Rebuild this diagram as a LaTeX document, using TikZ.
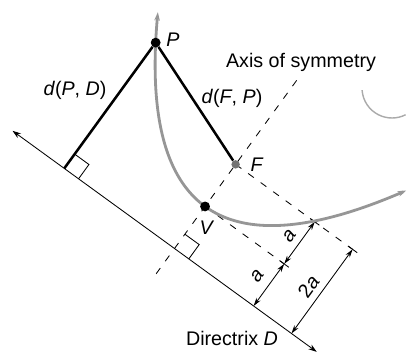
\documentclass[tikz,border=0pt]{standalone}
\usepackage{fontspec}
\setmainfont{Liberation Sans}
\usetikzlibrary{arrows.meta}
\definecolor{curvegray}{RGB}{150,150,150}
\definecolor{focusgray}{RGB}{115,115,115}
\definecolor{smudgegray}{RGB}{170,170,170}

\begin{document}
\begin{tikzpicture}[
  font=\fontsize{14}{16}\selectfont,
  dot/.style={circle,fill=black,inner sep=0pt,minimum size=7pt},
  thinline/.style={line width=0.6pt},
  dashline/.style={line width=0.6pt,dash pattern=on 5pt off 6pt},
  dimarrow/.style={line width=0.6pt,{Stealth[length=6pt,width=3.5pt]}-{Stealth[length=6pt,width=3.5pt]}},
  seg/.style={line width=1.8pt},
  lbl/.style={inner sep=0.5pt}]
  \useasboundingbox (0,0) rectangle (10.225,8.85);
  % smudge in the scan
  \draw[smudgegray,line width=1pt] (9.8,6.65) ++(184:0.75) arc[start angle=184,end angle=297,radius=0.75];
  \begin{scope}[shift={(4.3625,2.6375)},rotate=-36,scale=1.3]
    % frame: x along the directrix, y along the axis, unit a
    \coordinate (O) at (0,0);
    \coordinate (Dl) at (-3.85,0);
    \coordinate (Dr) at (3.38,0);
    \coordinate (Alo) at (0,-0.6);
    \coordinate (Ahi) at (0,4.15);
    \coordinate (Pf) at (-2.62,0);
    \coordinate (A1) at (1.88,0);
    \coordinate (A2) at (1.88,1);
    \coordinate (A3) at (1.88,2);
    \coordinate (B0) at (2.78,0);
    \coordinate (B2) at (2.78,2);
    \draw[thinline,{Stealth[length=6pt,width=4pt]}-{Stealth[length=6pt,width=4pt]}] (Dl) -- (Dr);
    \draw[dashline] (Alo) -- (Ahi);
    \draw[dashline] (0,1) -- (A2);
    \draw[dashline] (0,2) -- (B2);
    % right angles
    \draw[thinline] (O) ++(0.34,0) -- ++(0,0.34) -- ++(-0.34,0);
    \draw[thinline] (Pf) ++(0.34,0) -- ++(0,0.34) -- ++(-0.34,0);
    % dimensions
    \draw[dimarrow] (A1) -- (A2);
    \draw[dimarrow] (A2) -- (A3);
    \draw[dimarrow] (B0) -- (B2);
    \draw[thinline] (1.77,1) -- (1.99,1);
    \draw[thinline] (1.77,2) -- (1.99,2);
    \draw[thinline] (2.67,2) -- (2.89,2);
    \node[lbl,rotate=54] (la1) at (1.6,0.5) {\textit{a}};
    \node[lbl,rotate=54] (la2) at (1.64,1.5) {\textit{a}};
    \node[lbl,rotate=54] (l2a) at (2.52,0.92) {2\textit{a}};
    % parabola
    \draw[curvegray,line width=2pt,{Stealth[length=6pt,width=4pt]}-{Stealth[length=6pt,width=4pt]}]
      plot[domain=-2.93:2.95,samples=60,smooth] (\x,{1+\x*\x/3.45});
    \node[dot] (P) at (-2.62,2.99) {};
    \node[dot] (V) at (0,1) {};
    \node[dot,fill=focusgray,minimum size=6pt] (F) at (0,2) {};
    \draw[seg] (P) -- (Pf);
    \draw[seg] (P) -- (F);
  \end{scope}
  \node[lbl] (lblP) at (4.325,7.85) {\textit{P}};
  \node[lbl] (lblAxis) at (7.525,7.3) {Axis of symmetry};
  \node[lbl] (lblPD) at (1.875,6.6) {\textit{d}(\textit{P}, \textit{D})};
  \node[lbl] (lblFP) at (5.8,6.4) {\textit{d}(\textit{F}, \textit{P})};
  \node[lbl] (lblF) at (6.425,4.725) {\textit{F}};
  \node[lbl] (lblV) at (5.175,3.15) {\textit{V}};
  \node[lbl] (lblDir) at (5.8,0.4) {Directrix \textit{D}};
\end{tikzpicture}
\end{document}
